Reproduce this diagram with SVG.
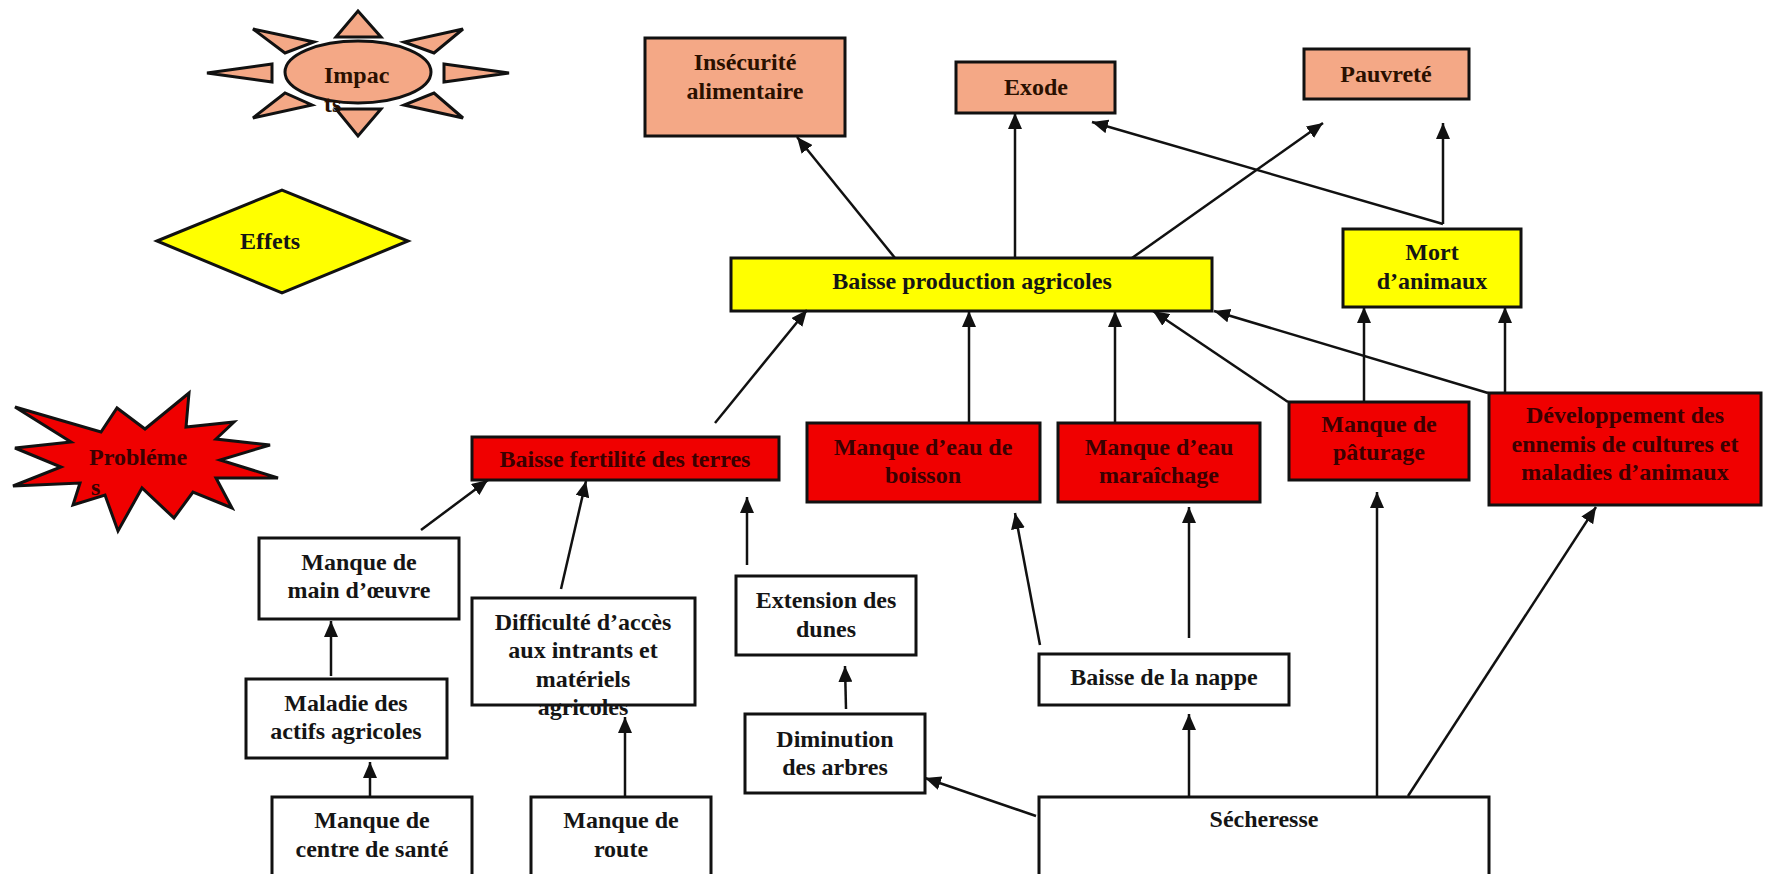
<svg xmlns="http://www.w3.org/2000/svg" width="1778" height="874" viewBox="0 0 1778 874">
<style>
text{font-family:"Liberation Serif","Times New Roman",serif;font-weight:bold;font-size:24px;text-anchor:middle;fill:#151515}
.box{stroke:#111;stroke-width:3}
.w{fill:#fff}.s{fill:#F4A886}.y{fill:#FFFF00}.r{fill:#F00000}
.tr{fill:#3a0000}
.c line{stroke:#111;stroke-width:2.5;marker-end:url(#ah)}
</style>
<defs>
<marker id="ah" markerUnits="userSpaceOnUse" markerWidth="18" markerHeight="14" refX="16" refY="7" orient="auto">
<path d="M0,0 L16,7 L0,14 z" fill="#111"/>
</marker>
</defs>
<rect width="1778" height="874" fill="#fff"/>

<g id="legend-impacts">
<g class="box s" stroke-linejoin="miter">
<polygon points="336,37 358,11 381,37"/>
<polygon points="336,109 381,109 358,136"/>
<polygon points="272,64 207,73 272,82"/>
<polygon points="444,64 509,73 444,82"/>
<polygon points="253,29 314,42 285,53"/>
<polygon points="463,29 404,42 434,53"/>
<polygon points="253,118 312,105 285,93"/>
<polygon points="463,118 404,105 434,93"/>
<ellipse cx="358" cy="72" rx="73" ry="31"/>
</g>
<text x="324" y="83" style="text-anchor:start;fill:#2a1000">Impac</text>
<text x="324" y="112" style="text-anchor:start;fill:#2a1000">ts</text>
</g>

<g id="legend-effets">
<polygon class="box y" points="157,241 282,190 408,241 282,293"/>
<text x="270" y="249">Effets</text>
</g>

<g id="legend-problemes">
<polygon class="box r" points="15,407 101,432 117,408 145,429 189,393 186,427 234,422 216,439 270,445 220,460 278,478 216,478 232,508 193,492 174,518 142,488 118,531 105,495 73,505 80,483 13,486 61,467 15,448 71,442"/>
<text x="89" y="465" class="tr" style="text-anchor:start">Probléme</text>
<text x="91" y="495" class="tr" style="text-anchor:start">s</text>
</g>

<g id="n-insecurite">
<rect class="box s" x="645" y="38" width="200" height="98"/>
<text x="745" y="70" style="fill:#2a1000">Insécurité</text>
<text x="745" y="99" style="fill:#2a1000">alimentaire</text>
</g>
<g id="n-exode">
<rect class="box s" x="956" y="62" width="159" height="51"/>
<text x="1036" y="95" style="fill:#2a1000">Exode</text>
</g>
<g id="n-pauvrete">
<rect class="box s" x="1304" y="49" width="165" height="50"/>
<text x="1386" y="82" style="fill:#2a1000">Pauvreté</text>
</g>

<g id="n-baisse-production">
<rect class="box y" x="731" y="258" width="481" height="53"/>
<text x="972" y="289">Baisse production agricoles</text>
</g>
<g id="n-mort">
<rect class="box y" x="1343" y="229" width="178" height="78"/>
<text x="1432" y="260">Mort</text>
<text x="1432" y="289">d’animaux</text>
</g>

<g id="n-fertilite">
<rect class="box r" x="472" y="437" width="307" height="43"/>
<text x="625" y="467" class="tr">Baisse fertilité des terres</text>
</g>
<g id="n-boisson">
<rect class="box r" x="807" y="423" width="233" height="79"/>
<text x="923" y="455" class="tr">Manque d’eau de</text>
<text x="923" y="483" class="tr">boisson</text>
</g>
<g id="n-maraichage">
<rect class="box r" x="1058" y="423" width="202" height="79"/>
<text x="1159" y="455" class="tr">Manque d’eau</text>
<text x="1159" y="483" class="tr">maraîchage</text>
</g>
<g id="n-paturage">
<rect class="box r" x="1289" y="402" width="180" height="78"/>
<text x="1379" y="432" class="tr">Manque de</text>
<text x="1379" y="460" class="tr">pâturage</text>
</g>
<g id="n-developpement">
<rect class="box r" x="1489" y="393" width="272" height="112"/>
<text x="1625" y="423" class="tr">Développement des</text>
<text x="1625" y="452" class="tr">ennemis de cultures et</text>
<text x="1625" y="480" class="tr">maladies d’animaux</text>
</g>

<g id="n-main-oeuvre">
<rect class="box w" x="259" y="538" width="200" height="81"/>
<text x="359" y="570">Manque de</text>
<text x="359" y="598">main d’œuvre</text>
</g>
<g id="n-maladie">
<rect class="box w" x="246" y="679" width="201" height="79"/>
<text x="346" y="711">Maladie des</text>
<text x="346" y="739">actifs agricoles</text>
</g>
<g id="n-centre-sante">
<rect class="box w" x="272" y="797" width="200" height="95"/>
<text x="372" y="828">Manque de</text>
<text x="372" y="857">centre de santé</text>
</g>
<g id="n-difficulte">
<rect class="box w" x="472" y="598" width="223" height="107"/>
<text x="583" y="630">Difficulté d’accès</text>
<text x="583" y="658">aux intrants et</text>
<text x="583" y="687">matériels</text>
<text x="583" y="715">agricoles</text>
</g>
<g id="n-route">
<rect class="box w" x="531" y="797" width="180" height="95"/>
<text x="621" y="828">Manque de</text>
<text x="621" y="857">route</text>
</g>
<g id="n-dunes">
<rect class="box w" x="736" y="576" width="180" height="79"/>
<text x="826" y="608">Extension des</text>
<text x="826" y="637">dunes</text>
</g>
<g id="n-arbres">
<rect class="box w" x="745" y="714" width="180" height="79"/>
<text x="835" y="747">Diminution</text>
<text x="835" y="775">des arbres</text>
</g>
<g id="n-nappe">
<rect class="box w" x="1039" y="654" width="250" height="51"/>
<text x="1164" y="685">Baisse de la nappe</text>
</g>
<g id="n-secheresse">
<rect class="box w" x="1039" y="797" width="450" height="95"/>
<text x="1264" y="827">Sécheresse</text>
</g>

<g id="connectors" class="c">
<line x1="895" y1="258" x2="797" y2="137"/>
<line x1="1015" y1="258" x2="1015" y2="113"/>
<line x1="1132" y1="258" x2="1323" y2="123"/>
<line x1="1443" y1="224" x2="1092" y2="122"/>
<line x1="1443" y1="224" x2="1443" y2="123"/>
<line x1="715" y1="423" x2="807" y2="310"/>
<line x1="969" y1="423" x2="969" y2="311"/>
<line x1="1115" y1="423" x2="1115" y2="311"/>
<line x1="1288" y1="402" x2="1153" y2="311"/>
<line x1="1488" y1="393" x2="1214" y2="311"/>
<line x1="1364" y1="402" x2="1364" y2="307"/>
<line x1="1505" y1="393" x2="1505" y2="307"/>
<line x1="421" y1="530" x2="488" y2="480"/>
<line x1="561" y1="589" x2="586" y2="481"/>
<line x1="747" y1="565" x2="747" y2="497"/>
<line x1="331" y1="676" x2="331" y2="621"/>
<line x1="370" y1="796" x2="370" y2="762"/>
<line x1="625" y1="797" x2="625" y2="717"/>
<line x1="846" y1="709" x2="845" y2="666"/>
<line x1="1036" y1="816" x2="925" y2="778"/>
<line x1="1040" y1="645" x2="1015" y2="513"/>
<line x1="1189" y1="638" x2="1189" y2="507"/>
<line x1="1189" y1="797" x2="1189" y2="714"/>
<line x1="1377" y1="797" x2="1377" y2="492"/>
<line x1="1408" y1="796" x2="1596" y2="507"/>
</g>
</svg>
